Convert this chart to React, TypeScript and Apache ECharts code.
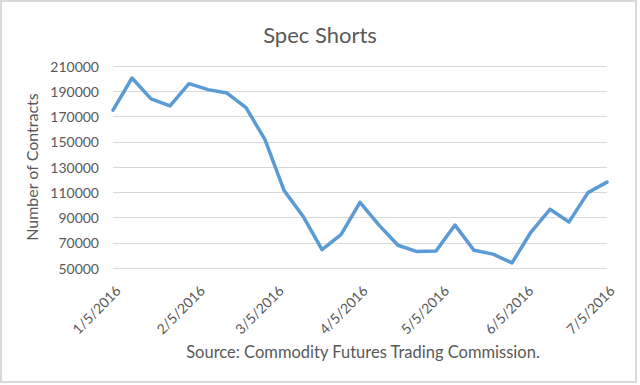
import React, { useEffect, useRef } from "react";
import * as echarts from "echarts";

const weekDates: string[] = [
  "2016-01-05", "2016-01-12", "2016-01-19", "2016-01-26",
  "2016-02-02", "2016-02-09", "2016-02-16", "2016-02-23",
  "2016-03-01", "2016-03-08", "2016-03-15", "2016-03-22", "2016-03-29",
  "2016-04-05", "2016-04-12", "2016-04-19", "2016-04-26",
  "2016-05-03", "2016-05-10", "2016-05-17", "2016-05-24", "2016-05-31",
  "2016-06-07", "2016-06-14", "2016-06-21", "2016-06-28",
  "2016-07-05",
];

const specShorts: number[] = [
  175000, 200500, 184000, 178500,
  196000, 191300, 188600, 177000,
  151700, 111500, 91000, 64500, 76500,
  102000, 84000, 68000, 63000,
  63500, 84000, 64000, 61000, 54000,
  78500, 96500, 86500, 109700,
  118000,
];

const xTickDates: string[] = [
  "2016-01-05", "2016-02-05", "2016-03-05", "2016-04-05",
  "2016-05-05", "2016-06-05", "2016-07-05",
];

const titleText = "Spec Shorts";
const yAxisTitle = "Number of Contracts";
const sourceText = "Source: Commodity Futures Trading Commission.";

const DAY = 86400000;
const toDay = (s: string) => {
  const [y, m, d] = s.split("-").map(Number);
  return Math.round(Date.UTC(y, m - 1, d) / DAY);
};
const fmtDay = (v: number) => {
  const d = new Date(Math.round(v) * DAY);
  return `${d.getUTCMonth() + 1}/${d.getUTCDate()}/${d.getUTCFullYear()}`;
};

const FONT = "Lato, 'Open Sans', sans-serif";
const TEXT = "#595959";

export default function App() {
  const ref = useRef<HTMLDivElement>(null);
  useEffect(() => {
    document.body.style.margin = "0";
    if (!ref.current) return;
    const chart = echarts.init(ref.current, undefined, { renderer: "svg" });
    const seriesData = weekDates.map((d, i) => [toDay(d), specShorts[i]]);
    chart.setOption({
      animation: false,
      backgroundColor: "#ffffff",
      title: {
        text: titleText,
        left: "center",
        top: 18,
        textStyle: { fontFamily: FONT, fontSize: 22, fontWeight: "normal", color: TEXT },
      },
      grid: { left: 113, right: 33, top: 66, height: 202 },
      xAxis: {
        type: "value",
        min: toDay(weekDates[0]),
        max: toDay(weekDates[weekDates.length - 1]),
        axisLine: { show: false },
        axisTick: { show: false },
        splitLine: { show: false },
        axisLabel: {
          customValues: xTickDates.map(toDay),
          rotate: 45,
          margin: 15,
          verticalAlign: "top",
          fontFamily: FONT,
          fontSize: 14,
          color: TEXT,
          showMinLabel: true,
          showMaxLabel: true,
          hideOverlap: false,
          formatter: (v: number) => fmtDay(v),
        },
      },
      yAxis: {
        type: "value",
        min: 50000,
        max: 210000,
        interval: 20000,
        axisLine: { show: false },
        axisTick: { show: false },
        splitLine: { lineStyle: { color: "#d9d9d9", width: 1 } },
        axisLabel: {
          fontFamily: FONT,
          fontSize: 14,
          color: TEXT,
          margin: 14,
          formatter: (v: number) => String(v),
        },
        name: yAxisTitle,
        nameLocation: "middle",
        nameRotate: 90,
        nameGap: 66,
        nameTextStyle: { fontFamily: FONT, fontSize: 16, color: TEXT },
      },
      graphic: [
        {
          type: "rect",
          shape: { x: 1, y: 1, width: 635, height: 381 },
          style: { fill: "none", stroke: "#d9d9d9", lineWidth: 2 },
          silent: true,
        },
        {
          type: "text",
          x: 363,
          y: 352,
          style: {
            text: sourceText,
            fontFamily: FONT,
            fontSize: 16.5,
            fill: TEXT,
            textAlign: "center",
            textVerticalAlign: "middle",
          },
        },
      ],
      series: [
        {
          type: "line",
          data: seriesData,
          showSymbol: false,
          symbol: "none",
          lineStyle: { color: "#5b9bd5", width: 3.5, cap: "round", join: "round" },
          itemStyle: { color: "#5b9bd5" },
        },
      ],
    });
    return () => chart.dispose();
  }, []);
  return <div ref={ref} style={{ width: 640, height: 385 }} />;
}
